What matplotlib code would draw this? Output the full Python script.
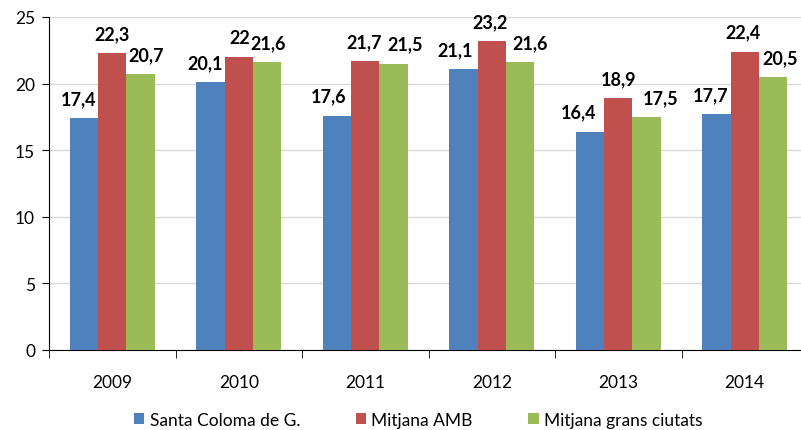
import matplotlib.pyplot as plt
import numpy as np

years = ['2009', '2010', '2011', '2012', '2013', '2014']
santa_coloma = [17.4, 20.1, 17.6, 21.1, 16.4, 17.7]
mitjana_amb = [22.3, 22.0, 21.7, 23.2, 18.9, 22.4]
grans_ciutats = [20.7, 21.6, 21.5, 21.6, 17.5, 20.5]

series = [
    ('Santa Coloma de G.', santa_coloma, '#4F81BD'),
    ('Mitjana AMB', mitjana_amb, '#C0504D'),
    ('Mitjana grans ciutats', grans_ciutats, '#9BBB59'),
]
# horizontal nudges of the data labels (points), as placed in the original
label_dx = [
    [-4, -4, -6, -6, -8, -4],
    [0, 1, -1, -1, 0, -1],
    [4, 1, 8, 7, 10, 5],
]

plt.rcParams['font.family'] = ['Lato', 'DejaVu Sans']

fig = plt.figure(figsize=(8.01, 4.31), dpi=100)
# axes deliberately run a bit past the right edge, like the original crop
ax = fig.add_axes([49 / 801, 80 / 431, 759 / 801, 333 / 431])

x = np.arange(len(years))
w = 0.225
for i, (name, vals, col) in enumerate(series):
    pos = x + (i - 1) * w
    bars = ax.bar(pos, vals, w, color=col, label=name, zorder=3)
    for j, (b, v) in enumerate(zip(bars, vals)):
        txt = ('%g' % v).replace('.', ',')
        ax.annotate(txt, (b.get_x() + b.get_width() / 2, v),
                    xytext=(label_dx[i][j], 10), textcoords='offset points',
                    ha='center', va='baseline', fontsize=13, fontweight='bold')

ax.set_xlim(-0.5, len(years) - 0.5)
ax.set_ylim(0, 25)
ax.set_yticks(range(0, 26, 5))
ax.yaxis.grid(True, color='#D9D9D9', linewidth=1, zorder=0)
ax.set_axisbelow(True)

ax.set_xticks(x)
ax.set_xticklabels(years)
ax.set_xticks(np.arange(-0.5, len(years), 1), minor=True)
ax.tick_params(axis='x', which='major', length=0, pad=17, labelsize=12.5)
ax.tick_params(axis='x', which='minor', length=6, color='black')
ax.tick_params(axis='y', length=5, color='black', labelsize=12.5, pad=5)

for s in ['top', 'right']:
    ax.spines[s].set_visible(False)
ax.spines['left'].set_color('black')
ax.spines['bottom'].set_color('black')

fig.legend(loc='center', bbox_to_anchor=(0.522, 0.023), ncol=3,
           frameon=False, fontsize=12.5, handlelength=0.6, handleheight=0.6,
           handletextpad=0.3, columnspacing=3.2)

fig.savefig('out.png', dpi=100)
